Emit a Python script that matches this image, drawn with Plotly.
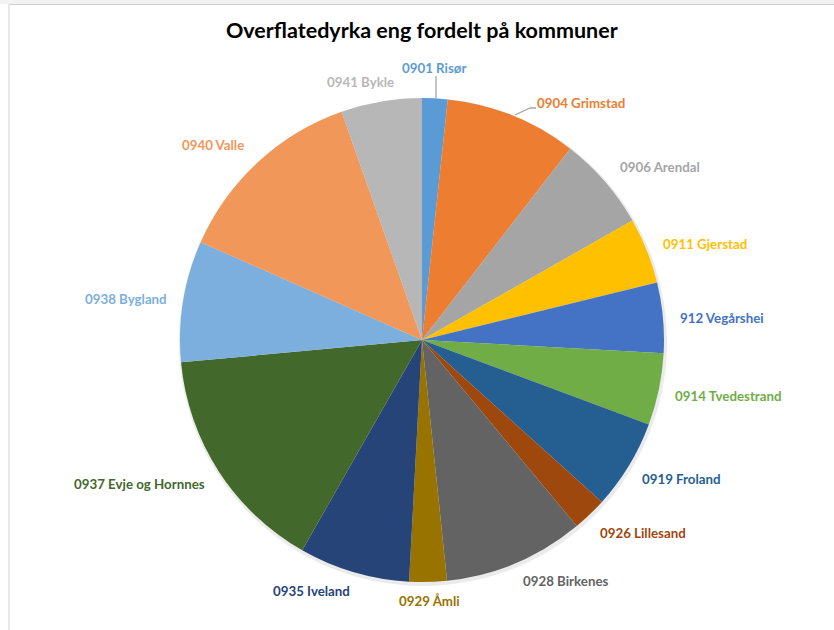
import plotly.graph_objects as go

W, H = 834, 630

# Data (clockwise from 12 o'clock)
labels = ["0901 Risør", "0904 Grimstad", "0906 Arendal", "0911 Gjerstad", "912 Vegårshei",
          "0914 Tvedestrand", "0919 Froland", "0926 Lillesand", "0928 Birkenes", "0929 Åmli",
          "0935 Iveland", "0937 Evje og Hornnes", "0938 Bygland", "0940 Valle", "0941 Bykle"]
values = [1.7, 8.8, 6.3, 4.4, 4.7, 4.8, 6.0, 2.3, 9.4, 2.5, 7.4, 15.3, 8.1, 13.0, 5.4]
colors = ["#5B9BD5", "#ED7D31", "#A5A5A5", "#FFC000", "#4472C4", "#70AD47", "#255E91",
          "#9E480E", "#636363", "#997300", "#264478", "#43682B", "#7CAFDD", "#F1975A", "#B7B7B7"]

# label positions in pixels (x, y from top)
label_pos = [(434, 68), (581, 103), (660, 167), (705, 244), (722, 318), (728, 396),
             (681, 479), (643, 533), (566, 581), (429, 601), (311, 591), (139, 484),
             (126, 299), (213, 145), (360, 82)]

FONT = "Lato, 'Open Sans', sans-serif"

cx, cy, r = 422, 340, 242

fig = go.Figure()
# subtle shadow
fig.add_trace(go.Pie(values=[1], marker=dict(colors=["rgba(0,0,0,0.08)"], line=dict(width=0)),
                     textinfo="none", hoverinfo="skip", showlegend=False, sort=False,
                     domain=dict(x=[(cx - r - 1) / W, (cx + r + 3) / W],
                                 y=[(H - cy - r - 4) / H, (H - cy + r - 0) / H])))
fig.add_trace(go.Pie(
    labels=labels, values=values, sort=False, direction="clockwise", rotation=0,
    marker=dict(colors=colors, line=dict(width=0)),
    textinfo="none", showlegend=False,
    domain=dict(x=[(cx - r) / W, (cx + r) / W], y=[(H - cy - r) / H, (H - cy + r) / H]),
))

for lab, col, (x, y) in zip(labels, colors, label_pos):
    fig.add_annotation(x=x / W, y=1 - y / H, xref="paper", yref="paper", text="<b>%s</b>" % lab,
                       showarrow=False, font=dict(family=FONT, size=13.3, color=col),
                       xanchor="center", yanchor="middle")

# leader lines
lc = "#A6A6A6"
fig.add_shape(type="line", xref="paper", yref="paper", x0=436 / W, x1=436 / W,
              y0=1 - 76 / H, y1=1 - 98 / H, line=dict(color=lc, width=1.3))
fig.add_shape(type="path", xref="paper", yref="paper",
              path="M %f %f L %f %f L %f %f" % (515 / W, 1 - 115 / H, 530 / W, 1 - 108 / H, 536 / W, 1 - 108 / H),
              line=dict(color=lc, width=1.3))

# window border
fig.add_shape(type="rect", xref="paper", yref="paper", x0=0, x1=1, y0=1 - 4 / H, y1=1,
              fillcolor="#F2F2F2", line=dict(width=0), layer="below")
fig.add_shape(type="line", xref="paper", yref="paper", x0=8 / W, x1=1, y0=1 - 4.5 / H, y1=1 - 4.5 / H,
              line=dict(color="#D0D0D0", width=1))
fig.add_shape(type="rect", xref="paper", yref="paper", x0=8 / W, x1=10 / W, y0=0, y1=1 - 4 / H,
              fillcolor="#E8E8E8", line=dict(width=0))

fig.add_annotation(x=422 / W, y=1 - 30 / H, xref="paper", yref="paper",
                   text="<b>Overflatedyrka eng fordelt på kommuner</b>", showarrow=False,
                   font=dict(family=FONT, size=21.5, color="#000000"), xanchor="center", yanchor="middle")

fig.update_layout(width=W, height=H, margin=dict(l=0, r=0, t=0, b=0),
                  paper_bgcolor="white", plot_bgcolor="white")

fig.write_html("out.html", config={"displayModeBar": False},
               post_script="document.body.style.margin='0px';document.body.style.overflow='hidden';")
